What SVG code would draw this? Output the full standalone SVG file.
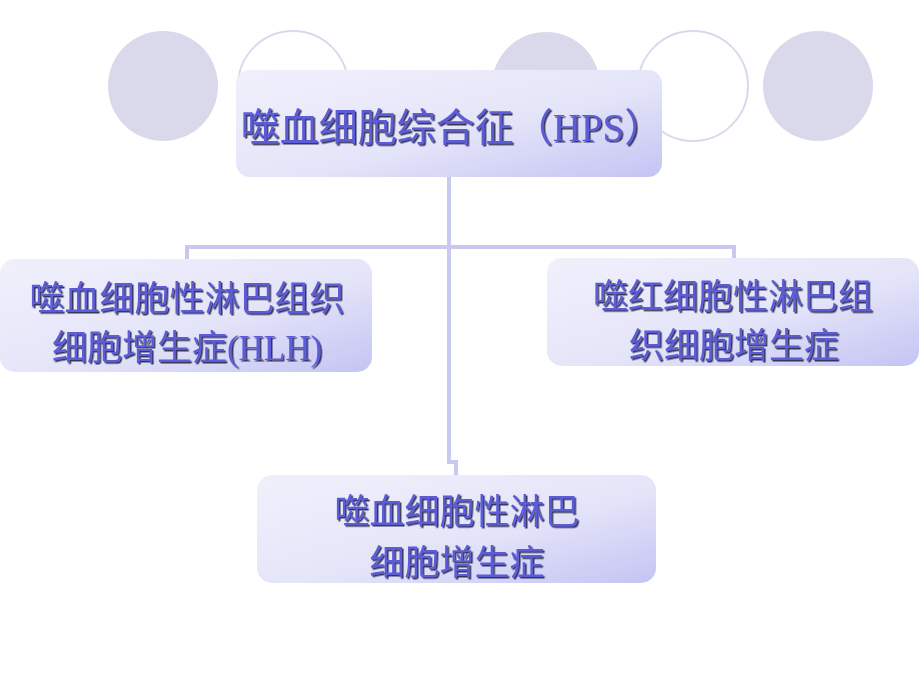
<svg xmlns="http://www.w3.org/2000/svg" width="920" height="690" viewBox="0 0 920 690">
  <defs>
    <linearGradient id="boxGrad" x1="0" y1="0" x2="1" y2="1">
      <stop offset="0" stop-color="#F0F0FC"/>
      <stop offset="0.55" stop-color="#E5E5F9"/>
      <stop offset="1" stop-color="#C4C4F4"/>
    </linearGradient>
    <filter id="shadow" x="-5%" y="-10%" width="110%" height="130%">
      <feDropShadow dx="1.5" dy="1.5" stdDeviation="0.4" flood-color="#22224A" flood-opacity="0.9"/>
    </filter>
    <style>
      .dot { fill: #D9D9EB; }
      .ring { fill: #FFFFFF; stroke: #D9D9EB; stroke-width: 2; }
      .box { fill: url(#boxGrad); }
      .conn { fill: none; stroke: #C8C8F0; stroke-width: 4; }
      .lbl { font-family: "Liberation Serif", "Noto Sans CJK SC", serif; font-size: 35px; text-anchor: middle; fill: #5C5CD6; filter: url(#shadow); }
      .title { font-size: 39px; }
    </style>
  </defs>
  <rect width="920" height="690" fill="#FFFFFF"/>

  <g id="decor">
    <circle class="dot" cx="163" cy="86" r="55"/>
    <circle class="ring" cx="293" cy="86" r="55"/>
    <circle class="dot" cx="546" cy="86" r="54"/>
    <circle class="ring" cx="693" cy="86" r="55"/>
    <circle class="dot" cx="818" cy="86" r="55"/>
  </g>

  <g id="connectors">
    <path class="conn" d="M449 177 V462 H456 V476"/>
    <path class="conn" d="M187 259 V247 H734 V258"/>
  </g>

  <g id="node-hps">
    <rect class="box" x="236" y="70" width="426" height="107" rx="14"/>
    <text class="lbl title" x="452" y="141">噬血细胞综合征（HPS）</text>
  </g>

  <g id="node-hlh">
    <rect class="box" x="0" y="259" width="372" height="113" rx="15"/>
    <text class="lbl" x="187" y="311">噬血细胞性淋巴组织</text>
    <text class="lbl" x="187" y="360">细胞增生症(HLH)</text>
  </g>

  <g id="node-red">
    <rect class="box" x="547" y="258" width="372" height="108" rx="15"/>
    <text class="lbl" x="733" y="309">噬红细胞性淋巴组</text>
    <text class="lbl" x="734" y="358">织细胞增生症</text>
  </g>

  <g id="node-lymph">
    <rect class="box" x="257" y="475" width="399" height="108" rx="15"/>
    <text class="lbl" x="457" y="524">噬血细胞性淋巴</text>
    <text class="lbl" x="457" y="575">细胞增生症</text>
  </g>
</svg>
